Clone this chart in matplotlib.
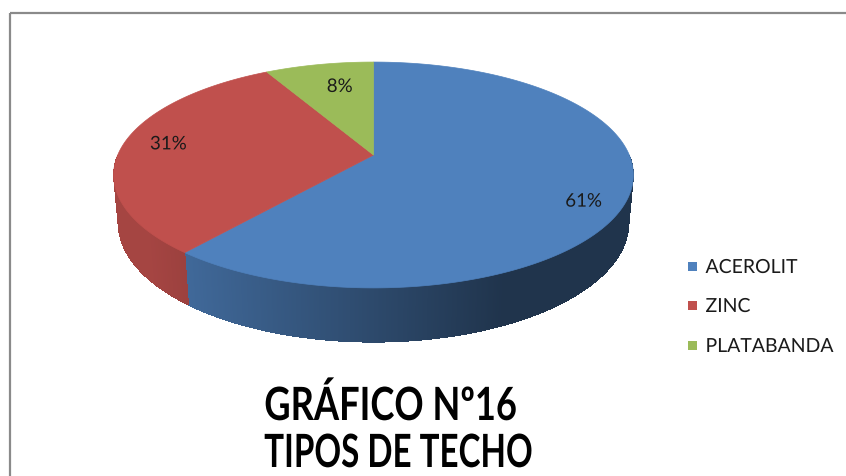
import numpy as np
import matplotlib
matplotlib.use("Agg")
import matplotlib.pyplot as plt
from matplotlib.patches import Polygon, Rectangle
from matplotlib.collections import PolyCollection
from matplotlib.patheffects import AbstractPathEffect
from matplotlib.transforms import Affine2D
from matplotlib.colors import to_rgb

# ---------------- data ----------------
categories = ["ACEROLIT", "ZINC", "PLATABANDA"]
values = [61, 31, 8]
pct_labels = ["61%", "31%", "8%"]
title_lines = ["GRÁFICO Nº16", "TIPOS DE TECHO"]

# ---------------- style ----------------
colors = ["#4F81BD", "#C0504D", "#9BBB59"]
FONT = "Lato"
TEXT_COLOR = "#1a1a1a"

W, H = 846, 476
fig = plt.figure(figsize=(W / 100, H / 100), dpi=100)
ax = fig.add_axes([0, 0, 1, 1])
ax.set_xlim(0, W)
ax.set_ylim(H, 0)
ax.axis("off")

# perspective camera for the 3D pie (pixel units)
CX, CY = 373.5, 155.0
F, S, C, D, TH = 1307.0, 0.4277, 0.904, 5.11, 0.207


def proj(theta_deg, r=1.0, z=0.0):
    t = np.radians(theta_deg)
    X = r * np.cos(t)
    Y = r * np.sin(t)
    depth = D + Y * C - z * S
    return CX + F * X / depth, CY - F * (Y * S + z * C) / depth


class HScale(AbstractPathEffect):
    """Horizontally condense text glyphs (text stays a Text artist)."""

    def __init__(self, sx, anchor="center"):
        super().__init__()
        self.sx = sx
        self.anchor = anchor

    def draw_path(self, renderer, gc, tpath, affine, rgbFace=None):
        v = affine.transform(tpath.vertices)
        if len(v) == 0:
            return
        if self.anchor == "left":
            x0 = v[:, 0].min()
        else:
            x0 = 0.5 * (v[:, 0].min() + v[:, 0].max())
        tr = affine + Affine2D().translate(-x0, 0).scale(self.sx, 1).translate(x0, 0)
        renderer.draw_path(gc, tpath, tr, rgbFace)


renderer = fig.canvas.get_renderer()


def fit_text(x, y, s, target_w, size, weight="normal", ha="left", va="baseline",
             color=TEXT_COLOR, zorder=6):
    t = ax.text(x, y, s, fontsize=size, fontweight=weight, family=FONT,
                ha=ha, va=va, color=color, zorder=zorder)
    w = t.get_window_extent(renderer).width
    sx = min(1.0, target_w / w) if w > 0 else 1.0
    t.set_path_effects([HScale(sx, "left" if ha == "left" else "center")])
    return t


# ---------------- frame ----------------
ax.add_patch(Rectangle((10, 13), 900, 520, fill=False, edgecolor="#8a8a8a",
                       linewidth=1.6, zorder=0))

# ---------------- slices ----------------
total = float(sum(values))
fracs = [v / total for v in values]
starts, ends = [], []
a = 90.0
for f in fracs:
    starts.append(a)
    ends.append(a - f * 360.0)
    a -= f * 360.0


def shade(x):
    return np.interp(x, [150, 505], [0.86, 0.40])


# side walls (front-facing part only)
for i, (hi, lo) in enumerate(zip(starts, ends)):
    base = np.array(to_rgb(colors[i]))
    for k in (-2, -1, 0, 1):
        f0, f1 = 180 + 360 * k, 360 + 360 * k
        a0, a1 = max(lo, f0), min(hi, f1)
        if a1 <= a0:
            continue
        n = max(2, int((a1 - a0) / 0.25) + 1)
        th = np.linspace(a0, a1, n)
        # smooth antialiased outline underneath
        outline = [proj(t) for t in th] + [proj(t, z=-TH) for t in th[::-1]]
        xm_all = np.mean([p[0] for p in outline])
        ax.add_patch(Polygon(outline, closed=True,
                             facecolor=np.clip(base * shade(xm_all), 0, 1),
                             edgecolor="none", zorder=1))
        quads, cols = [], []
        for t0, t1 in zip(th[:-1], th[1:]):
            p0 = proj(t0)
            p1 = proj(t1)
            q1 = proj(t1, z=-TH)
            q0 = proj(t0, z=-TH)
            quads.append([p0, p1, q1, q0])
            xm = 0.25 * (p0[0] + p1[0] + q0[0] + q1[0])
            cols.append(np.clip(base * shade(xm), 0, 1))
        pc = PolyCollection(quads, facecolors=cols, edgecolors="none",
                            antialiaseds=False, zorder=1.5)
        ax.add_collection(pc)

# top faces
for i, (hi, lo) in enumerate(zip(starts, ends)):
    th = np.linspace(hi, lo, max(3, int((hi - lo) / 0.5)))
    pts = [proj(0, r=0.0)] + [proj(t) for t in th]
    ax.add_patch(Polygon(pts, closed=True, facecolor=colors[i],
                         edgecolor=colors[i], linewidth=0.5, zorder=3))

# percentage labels
label_r = 0.8
label_nudge = [(8, 15), (-4, -3), (11, 6)]
lbl_sx = None
for i, (hi, lo) in enumerate(zip(starts, ends)):
    mid = 0.5 * (hi + lo)
    x, y = proj(mid, r=label_r)
    x += label_nudge[i][0]
    y += label_nudge[i][1]
    t = ax.text(x, y, pct_labels[i], fontsize=13.5, family=FONT, ha="center",
                va="center", color=TEXT_COLOR, zorder=6)
    if lbl_sx is None:
        w = t.get_window_extent(renderer).width
        lbl_sx = min(1.0, 41.0 / w)
    t.set_path_effects([HScale(lbl_sx, "center")])

# ---------------- legend ----------------
leg_rows = [266, 305, 345]
leg_widths = [92, 46, 130]
for i, cat in enumerate(categories):
    yc = leg_rows[i]
    ax.add_patch(Rectangle((687.5, yc - 4.5), 9, 9, facecolor=colors[i],
                           edgecolor="none", zorder=6))
    fit_text(705.5, yc + 7, cat, leg_widths[i], 14, ha="left", va="baseline")

# ---------------- title ----------------
fit_text(391, 420, title_lines[0], 253, 33, weight="bold", ha="center",
         color="black")
fit_text(399, 467, title_lines[1], 269, 33, weight="bold", ha="center",
         color="black")

fig.savefig("out.png", dpi=100)
